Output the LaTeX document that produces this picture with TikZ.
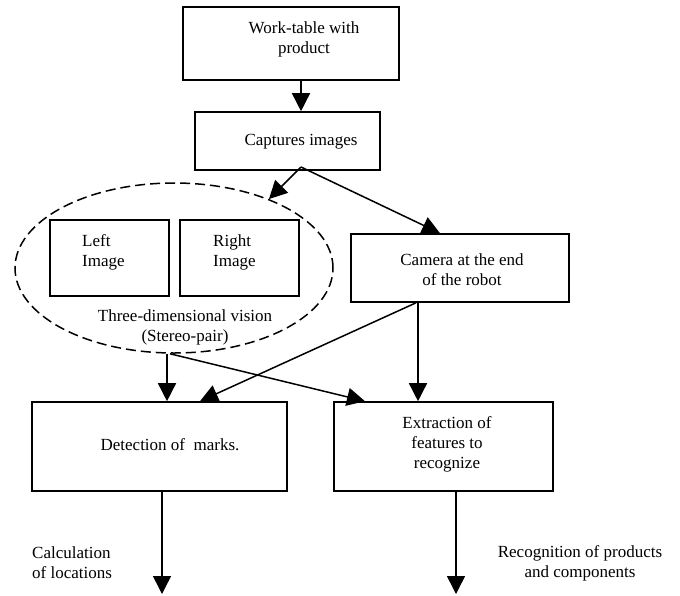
\documentclass[tikz,border=0pt]{standalone}
\usepackage{fontspec}
\setmainfont{Liberation Serif}
\usetikzlibrary{arrows.meta,shapes.geometric}
\begin{document}
\begin{tikzpicture}[x=1pt,y=-1pt,
  box/.style={draw,line width=1.6pt,inner sep=0pt,rectangle},
  txt/.style={font=\fontsize{17}{20}\selectfont,inner sep=0pt,align=center},
  arr/.style={line width=1.5pt,-{Triangle[length=18pt,width=18pt]}},
  ln/.style={line width=1.5pt}]
\useasboundingbox (0,0) rectangle (680,595);
\node[box,minimum width=216pt,minimum height=73pt] (wt) at (291,43.5) {};
\node[box,minimum width=185pt,minimum height=58pt] (cap) at (287.5,141) {};
\node[draw,dash pattern=on 10pt off 5pt,line width=1.5pt,ellipse,inner sep=0pt,minimum width=318pt,minimum height=170pt] (ell) at (174,268) {};
\node[box,minimum width=119pt,minimum height=76pt] (li) at (109.5,258) {};
\node[box,minimum width=119pt,minimum height=76pt] (ri) at (239.5,258) {};
\node[box,minimum width=218pt,minimum height=68pt] (cam) at (460,268) {};
\node[box,minimum width=255pt,minimum height=89pt] (det) at (159.5,446.5) {};
\node[box,minimum width=219pt,minimum height=89pt] (ext) at (443.5,446.5) {};

\node[txt] (wtt) at (304,39) {Work-table with\\product};
\node[txt] (capt) at (301,142) {Captures images};
\node[txt,align=left,anchor=west] (lit) at (82,252) {Left\\Image};
\node[txt,align=left,anchor=west] (rit) at (213,252) {Right\\Image};
\node[txt] (ellt) at (185,327) {Three-dimensional vision\\(Stereo-pair)};
\node[txt] (camt) at (462,270) {Camera at the end\\of the robot};
\node[txt] (dett) at (170,445) {Detection of\ \ marks.};
\node[txt] (extt) at (447,444) {Extraction of\\features to\\recognize};
\node[txt,align=left,anchor=west] (calc) at (32,563) {Calculation\\of locations};
\node[txt] (reco) at (580,563) {Recognition of products\\and components};

\coordinate (capout) at (301,167);
\coordinate (end1) at (162,594);
\coordinate (end2) at (456,594);

\draw[arr] ([xshift=10pt]wt.south) -- ([xshift=13.5pt]cap.north);
\draw[arr] (capout) -- (ell.36);
\draw[arr] (capout) -- ([xshift=-20pt]cam.north);
\draw[arr] ([xshift=-7pt]ell.south) -- ([xshift=7.5pt]det.north);
\draw[arr] ([xshift=-4pt]ell.south) -- ([xshift=-78.5pt]ext.north);
\draw[arr] ([xshift=-44pt]cam.south) -- ([xshift=40.5pt]det.north);
\draw[arr] ([xshift=-42pt]cam.south) -- ([xshift=-25.5pt]ext.north);
\draw[arr] ([xshift=2.5pt]det.south) -- (end1);
\draw[arr] ([xshift=12.5pt]ext.south) -- (end2);
\end{tikzpicture}
\end{document}
